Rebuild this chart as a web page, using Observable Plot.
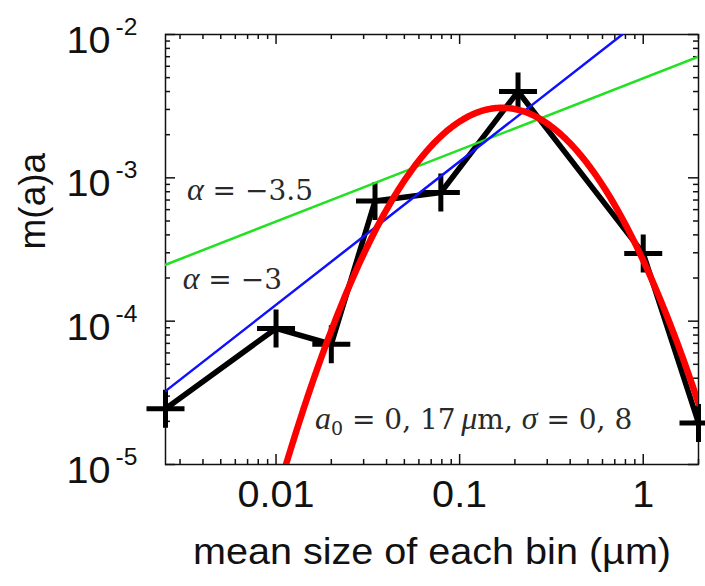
<!DOCTYPE html>
<html>
<head>
<meta charset="utf-8">
<script src="https://cdn.jsdelivr.net/npm/d3@7"></script>
<script src="https://cdn.jsdelivr.net/npm/@observablehq/plot@0.6"></script>
<style>
  html, body { margin: 0; padding: 0; background: #fff; }
</style>
</head>
<body>
<div id="chart"></div>
<script>
// Measured size distribution: mean size of each bin (µm) and m(a)a
const binSize    = [0.0025, 0.01, 0.02, 0.0346, 0.079, 0.208, 1, 2];
const massMoment = [2.45e-5, 8.9e-5, 6.9e-5, 6.9e-4, 7.9e-4, 4.0e-3, 2.97e-4, 1.95e-5];

// Power-law references m(a)a = C · a^(α+4)
const slopeAlpha = [-3.5, -3];
const slopeCoef  = [0.00495, 0.013];

// Log-normal fit: a0 = 0,17 µm, σ = 0,8
const fitA0 = 0.17;
const fitSigma = 0.8;
const fitPeak = 3.08e-3;

// Axis ticks
const xMajor = [0.01, 0.1, 1];
const xMinor = [0.003, 0.004, 0.005, 0.006, 0.007, 0.008, 0.009,
                0.02, 0.03, 0.04, 0.05, 0.06, 0.07, 0.08, 0.09,
                0.2, 0.3, 0.4, 0.5, 0.6, 0.7, 0.8, 0.9, 2];
const yMajor = [1e-5, 1e-4, 1e-3, 1e-2];
const yMinor = [2e-5, 3e-5, 4e-5, 5e-5, 6e-5, 7e-5, 8e-5, 9e-5,
                2e-4, 3e-4, 4e-4, 5e-4, 6e-4, 7e-4, 8e-4, 9e-4,
                2e-3, 3e-3, 4e-3, 5e-3, 6e-3, 7e-3, 8e-3, 9e-3];

// Annotations
const annoText = ["α = −3.5", "α = −3", "a₀ = 0, 17\u2009μm, σ = 0, 8"];
const annoX = [0.00327, 0.0031, 0.0163];
const annoY = [8.07e-4, 1.95e-4, 2.05e-5];

const xDomain = [0.0025, 2];
const yDomain = [1e-5, 1e-2];

// ---- derived tables ----
const points = binSize.map((a, i) => ({a, m: massMoment[i]}));

const powerLine = (k) => xDomain.map(a => ({a, m: slopeCoef[k] * Math.pow(a, slopeAlpha[k] + 4)}));

const fitCurve = d3.range(0, 301).map(i => {
  const la = Math.log10(xDomain[0]) + i / 300 * (Math.log10(xDomain[1]) - Math.log10(xDomain[0]));
  const a = Math.pow(10, la);
  const l = Math.log(a / fitA0);
  return {a, m: fitPeak * Math.exp(-l * l / (2 * fitSigma * fitSigma))};
});

const annotations = annoText.map((t, i) => ({t, a: annoX[i], m: annoY[i]}));

// gnuplot-style "+" point marker
const crossSymbol = {
  draw(context, size) {
    const r = Math.sqrt(size / Math.PI);
    context.moveTo(-r, 0); context.lineTo(r, 0);
    context.moveTo(0, -r); context.lineTo(0, r);
  }
};

const W = 705, H = 586;
const mL = 165, mR = 7, mT = 34, mB = 122;
const fW = W - mL - mR, fH = H - mT - mB;
const tickStyle = {stroke: "#111", strokeWidth: 1.5};

const plot = Plot.plot({
  width: W, height: H,
  marginLeft: mL, marginRight: mR, marginTop: mT, marginBottom: mB,
  x: {type: "log", domain: xDomain, axis: null},
  y: {type: "log", domain: yDomain, axis: null},
  style: {fontFamily: "'Liberation Sans', Arial, sans-serif", fontSize: "37px", color: "#111", background: "#fff", overflow: "visible"},
  marks: [
    // inward ticks on all four sides
    Plot.ruleX(xMajor, {x: d => d, insetTop: fH - 10, ...tickStyle}),
    Plot.ruleX(xMajor, {x: d => d, insetBottom: fH - 10, ...tickStyle}),
    Plot.ruleX(xMinor, {x: d => d, insetTop: fH - 5, ...tickStyle}),
    Plot.ruleX(xMinor, {x: d => d, insetBottom: fH - 5, ...tickStyle}),
    Plot.ruleY(yMajor, {y: d => d, insetRight: fW - 10, ...tickStyle}),
    Plot.ruleY(yMajor, {y: d => d, insetLeft: fW - 10, ...tickStyle}),
    Plot.ruleY(yMinor, {y: d => d, insetRight: fW - 5, ...tickStyle}),
    Plot.ruleY(yMinor, {y: d => d, insetLeft: fW - 5, ...tickStyle}),
    Plot.frame({stroke: "#111", strokeWidth: 1.5}),

    // tick labels
    Plot.text(xMajor, {x: d => d, frameAnchor: "bottom", dy: 42, text: d => String(d), fontSize: 37, fill: "#111"}),
    Plot.text(yMajor, {y: d => d, frameAnchor: "left", dx: -55, dy: 6.5, textAnchor: "end", text: () => "10", fontSize: 37, fill: "#111"}),
    Plot.text(yMajor, {y: d => d, frameAnchor: "left", dx: -28, dy: -7, textAnchor: "end", text: d => String(Math.round(Math.log10(d))), fontSize: 23, fill: "#111"}),

    // axis titles
    Plot.text(["mean size of each bin (µm)"], {frameAnchor: "bottom", dy: 99, text: d => d, fontSize: 37, fill: "#111"}),
    Plot.text(["m(a)a"], {frameAnchor: "left", dx: -132.5, rotate: -90, text: d => d, fontSize: 37, fill: "#111"}),

    // data
    Plot.line(points, {x: "a", y: "m", stroke: "#000", strokeWidth: 5.5, strokeLinejoin: "round"}),
    Plot.dot(points, {x: "a", y: "m", symbol: crossSymbol, r: 19, stroke: "#000", strokeWidth: 5, fill: "none"}),

    // power laws and fit
    Plot.line(powerLine(0), {x: "a", y: "m", stroke: "#22e022", strokeWidth: 2.5, clip: true}),
    Plot.line(powerLine(1), {x: "a", y: "m", stroke: "#1010ff", strokeWidth: 2.5, clip: true}),
    Plot.line(fitCurve, {x: "a", y: "m", stroke: "#ff0000", strokeWidth: 6.5, clip: true}),

    // annotations
    Plot.text(annotations, {x: "a", y: "m", text: "t", textAnchor: "start", fontSize: 28,
      fontFamily: "'DejaVu Serif', 'Liberation Serif', serif", fill: "#2a2a2a"})
  ]
});

// typeset the math annotations: italic symbols, subscript zero
const italicChars = new Set(["α", "σ", "μ"]);
function typeset(node) {
  const s = node.textContent;
  const t = d3.select(node);
  t.text(null);
  let lowered = false;
  [...s].forEach((ch, i) => {
    const sub = ch === "₀";
    const span = t.append("tspan").text(sub ? "0" : ch);
    if (italicChars.has(ch) || (ch === "a" && i === 0)) {
      span.attr("font-family", "'Liberation Serif', serif")
          .attr("font-style", "italic")
          .attr("font-size", "32px");
    }
    if (sub) { span.attr("font-size", "19px").attr("dy", "6"); lowered = true; }
    else if (lowered) { span.attr("dy", "-6"); lowered = false; }
  });
}

d3.select(plot).selectAll("text").each(function () {
  if (annoText.includes(this.textContent)) { typeset(this); return; }
  // slightly wider horizontal sans labels, scaled about each label's anchor
  const tr = this.getAttribute("transform");
  if (tr && tr.startsWith("translate") && !tr.includes("rotate")) {
    this.setAttribute("transform", tr + " scale(1.07,1)");
  }
});

document.getElementById("chart").append(plot);
</script>
</body>
</html>
